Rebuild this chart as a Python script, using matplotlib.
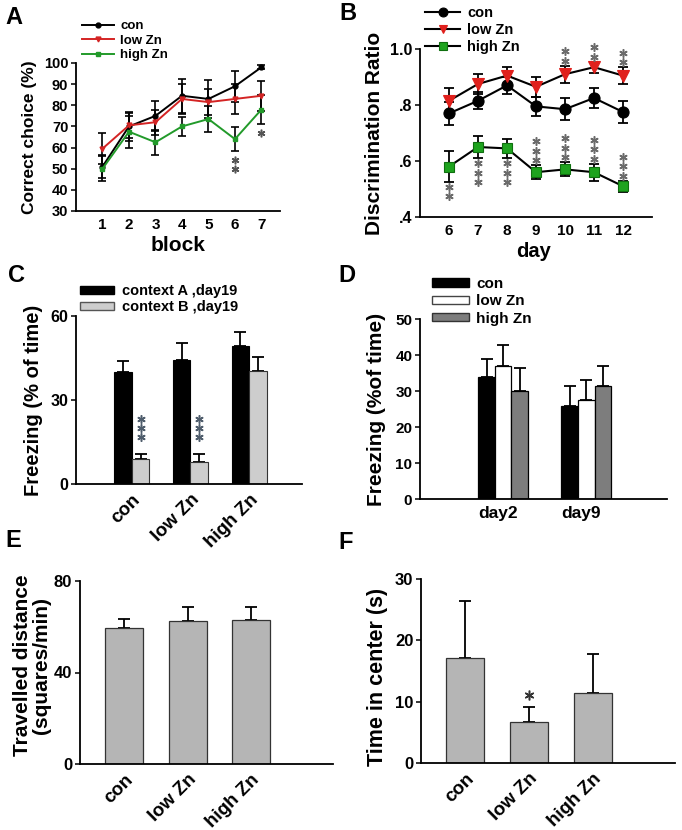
import matplotlib
matplotlib.use("Agg")
import matplotlib.pyplot as plt
import matplotlib.transforms as mtransforms
from matplotlib.patches import Patch
from matplotlib.ticker import FuncFormatter
import numpy as np

plt.rcParams['font.family'] = ['Liberation Sans', 'DejaVu Sans']
plt.rcParams['font.weight'] = 'bold'
plt.rcParams['axes.labelweight'] = 'bold'

# ---------------- data ----------------
groups = ["con", "low Zn", "high Zn"]

# A: correct choice per block
A_blocks = [1, 2, 3, 4, 5, 6, 7]
A_con = [51, 70, 75, 84.5, 83, 89, 98]
A_con_err = [5.5, 7, 7, 8, 9, 7.3, 1]
A_low = [59.5, 70.5, 72, 83, 81.5, 83, 84.5]
A_low_err = [7.5, 6, 6, 7, 6, 7, 7]
A_high = [50, 67.5, 62.5, 70, 73.5, 64, 78]
A_high_err = [6, 7.5, 6, 4.5, 6, 5.7, 6.8]
A_sig_high = {6: 2, 7: 1}          # block -> number of stars (below high Zn)

# B: discrimination ratio per day
B_days = [6, 7, 8, 9, 10, 11, 12]
B_con = [0.77, 0.815, 0.87, 0.795, 0.785, 0.825, 0.775]
B_con_err = [0.04, 0.03, 0.03, 0.035, 0.04, 0.035, 0.04]
B_low = [0.815, 0.875, 0.905, 0.865, 0.91, 0.935, 0.905]
B_low_err = [0.045, 0.035, 0.03, 0.035, 0.03, 0.02, 0.03]
B_high = [0.58, 0.65, 0.645, 0.56, 0.57, 0.56, 0.51]
B_high_err = [0.055, 0.04, 0.035, 0.025, 0.025, 0.03, 0.02]
B_sig_low = {10: 2, 11: 2, 12: 2}                       # above low Zn
B_sig_high = {6: (2, -1), 7: (3, -1), 8: (3, -1),       # (stars, direction)
              9: (3, 1), 10: (3, 1), 11: (3, 1), 12: (3, 1)}

# C: contextual fear, day 19
C_ctxA = [40, 44.3, 49.3]
C_ctxA_err = [4, 6, 5]
C_ctxB = [9, 7.8, 40.3]
C_ctxB_err = [1.8, 3, 5]
C_sig_B = [3, 3, 0]

# D: freezing day2 / day9
D_days = ["day2", "day9"]
D_con = [33.9, 25.9]
D_con_err = [5, 5.5]
D_low = [36.9, 27.6]
D_low_err = [6, 5.4]
D_high = [30.1, 31.4]
D_high_err = [6.2, 5.5]

# E: travelled distance
E_vals = [59.5, 62.5, 63]
E_err = [3.8, 6.1, 5.6]

# F: time in center
F_vals = [17.2, 6.7, 11.4]
F_err = [9.2, 2.4, 6.4]
F_sig = [0, 1, 0]

# ---------------- figure ----------------
W, H = 682, 830
fig = plt.figure(figsize=(W / 100, H / 100), dpi=100)


def add_axes(l, r, t, b):
    return fig.add_axes([l / W, 1 - b / H, (r - l) / W, (b - t) / H])


def style(ax, ytick_fs, xtick_fs):
    for s in ['top', 'right']:
        ax.spines[s].set_visible(False)
    for s in ['left', 'bottom']:
        ax.spines[s].set_linewidth(1.3)
    ax.tick_params(axis='y', direction='out', length=3.5, width=1.1,
                   labelsize=ytick_fs, pad=2)
    ax.tick_params(axis='x', length=0, labelsize=xtick_fs, pad=5)
    for lab in ax.get_xticklabels() + ax.get_yticklabels():
        lab.set_fontweight('bold')


def ylabel(ax, text, fs, xc, yc=0.5, ls=1.0):
    ax.set_ylabel(text, fontsize=fs, fontweight='bold', va='center',
                  linespacing=ls)
    ax.yaxis.set_label_coords(xc, yc)


def stars(ax, x, y, n, direction, first_px, step_px, color, ms=6):
    for k in range(n):
        dy = direction * (first_px + k * step_px)
        tr = mtransforms.offset_copy(ax.transData, fig=fig, x=0, y=dy,
                                     units='dots')
        ax.plot([x], [y], marker=(6, 2, 0), ms=ms, mew=1.1, color=color,
                transform=tr, clip_on=False, zorder=5)


panel_fs = 17
fig.text(5 / W, 1 - 6 / H, 'A', fontsize=panel_fs, fontweight='bold', va='top')
fig.text(339 / W, 1 - 2 / H, 'B', fontsize=panel_fs, fontweight='bold', va='top')
fig.text(8 / W, 1 - 264 / H, 'C', fontsize=panel_fs, fontweight='bold', va='top')
fig.text(338 / W, 1 - 264 / H, 'D', fontsize=panel_fs, fontweight='bold', va='top')
fig.text(5 / W, 1 - 529 / H, 'E', fontsize=panel_fs, fontweight='bold', va='top')
fig.text(338 / W, 1 - 531 / H, 'F', fontsize=panel_fs, fontweight='bold', va='top')

# ---------------- A ----------------
axA = add_axes(76, 280, 63, 211)
a_red, a_green = '#d42424', '#229a2a'
for vals, errs in [(A_con, A_con_err), (A_low, A_low_err), (A_high, A_high_err)]:
    axA.errorbar(A_blocks, vals, yerr=errs, fmt='none', ecolor='black',
                 elinewidth=1.2, capsize=3, capthick=1.2, zorder=2)
hA = []
for vals, col, mk, lab in [(A_con, 'black', 'o', 'con'),
                           (A_low, a_red, 'v', 'low Zn'),
                           (A_high, a_green, 's', 'high Zn')]:
    ln, = axA.plot(A_blocks, vals, color=col, lw=1.4, marker=mk, ms=3.5,
                   mfc=col, mec=col, label=lab, zorder=3)
    hA.append(ln)
for blk, n in A_sig_high.items():
    i = A_blocks.index(blk)
    stars(axA, blk, A_high[i] - A_high_err[i], n, -1, 9, 9, '#555555', ms=5.5)
axA.set_xlim(0, 7.7)
axA.set_ylim(30, 100)
axA.set_xticks(A_blocks)
axA.set_yticks(range(30, 101, 10))
style(axA, 10.5, 11)
ylabel(axA, 'Correct choice (%)', 12.5, -0.23)
axA.set_xlabel('block', fontsize=15, fontweight='bold')
axA.xaxis.set_label_coords(0.5, -0.236)
axA.xaxis.label.set_va('center')
fig.legend(handles=hA, loc='upper left', bbox_to_anchor=(82 / W, 1 - 20 / H),
           frameon=False, handlelength=2.4, handletextpad=0.5,
           labelspacing=0.18, borderpad=0, borderaxespad=0,
           prop={'weight': 'bold', 'size': 9.5})

# ---------------- B ----------------
axB = add_axes(420, 652, 49, 217)
b_red, b_green = '#e0201c', '#1ea31e'
for vals, errs in [(B_con, B_con_err), (B_low, B_low_err), (B_high, B_high_err)]:
    axB.errorbar(B_days, vals, yerr=errs, fmt='none', ecolor='black',
                 elinewidth=1.3, capsize=3.5, capthick=1.3, zorder=2)
hB = []
for vals, col, mk, ms, lab in [(B_con, 'black', 'o', 8, 'con'),
                               (B_low, b_red, 'v', 8, 'low Zn'),
                               (B_high, b_green, 's', 7.5, 'high Zn')]:
    ln, = axB.plot(B_days, vals, color='black', lw=1.5, marker=mk, ms=ms,
                   mfc=col, mec=col if col != b_green else '#0f6f0f',
                   mew=0.8, label=lab, zorder=3)
    hB.append(ln)
for d, n in B_sig_low.items():
    i = B_days.index(d)
    stars(axB, d, B_low[i] + B_low_err[i], n, 1, 5, 9.5, '#6b6b6b', ms=6)
for d, (n, direc) in B_sig_high.items():
    i = B_days.index(d)
    stars(axB, d, B_high[i] + direc * B_high_err[i], n, direc, 5, 9.5,
          '#6b6b6b', ms=6)
axB.set_xlim(5, 13)
axB.set_ylim(0.4, 1.0)
axB.set_xticks(B_days)
axB.set_yticks([0.4, 0.6, 0.8, 1.0])
axB.yaxis.set_major_formatter(FuncFormatter(
    lambda v, p: '1.0' if abs(v - 1) < 1e-9 else ('%.1f' % v).lstrip('0')))
style(axB, 11.5, 11)
ylabel(axB, 'Discrimination Ratio', 15, -0.194)
axB.set_xlabel('day', fontsize=14.5, fontweight='bold')
axB.xaxis.set_label_coords(0.49, -0.208)
axB.xaxis.label.set_va('center')
fig.legend(handles=hB, loc='upper left', bbox_to_anchor=(425 / W, 1 - 6 / H),
           frameon=False, handlelength=2.4, handletextpad=0.5,
           labelspacing=0.22, borderpad=0, borderaxespad=0, markerscale=0.8,
           prop={'weight': 'bold', 'size': 10.5})

# ---------------- C ----------------
axC = add_axes(76, 302, 316, 484)
xC = np.arange(len(groups))
wC = 0.3
axC.bar(xC - wC / 2, C_ctxA, wC, color='black', edgecolor='black', lw=0.8,
        label='context A ,day19', zorder=2)
axC.bar(xC + wC / 2, C_ctxB, wC, color='#cdcdcd', edgecolor='#333333', lw=0.8,
        label='context B ,day19', zorder=2)
axC.errorbar(xC - wC / 2, C_ctxA, yerr=[np.zeros(3), C_ctxA_err], fmt='none',
             ecolor='black', elinewidth=1.3, capsize=4, capthick=1.3, zorder=1)
axC.errorbar(xC + wC / 2, C_ctxB, yerr=[np.zeros(3), C_ctxB_err], fmt='none',
             ecolor='black', elinewidth=1.3, capsize=4, capthick=1.3, zorder=1)
for i, n in enumerate(C_sig_B):
    if n:
        stars(axC, xC[i] + wC / 2, C_ctxB[i] + C_ctxB_err[i], n, 1, 17, 9,
              '#4f5d6c', ms=6)
axC.set_xlim(-0.95, 2.9)
axC.set_ylim(0, 60)
axC.set_yticks([0, 30, 60])
axC.set_xticks(xC)
axC.set_xticklabels(groups, rotation=45, ha='right', rotation_mode='anchor')
style(axC, 11.5, 13.5)
ylabel(axC, 'Freezing (% of time)', 14.5, -0.186)
hC = [Patch(facecolor='black', edgecolor='black', label='context A ,day19'),
      Patch(facecolor='#cdcdcd', edgecolor='#555555', label='context B ,day19')]
fig.legend(handles=hC, loc='upper left', bbox_to_anchor=(80 / W, 1 - 284 / H),
           frameon=False, handlelength=2.3, handleheight=0.5,
           handletextpad=0.55, labelspacing=0.15, borderpad=0,
           borderaxespad=0, prop={'weight': 'bold', 'size': 10.5})

# ---------------- D ----------------
axD = add_axes(420, 667, 319, 499)
xD = np.arange(len(D_days))
wD = 0.2
for off, vals, errs, col, lab in [(-wD, D_con, D_con_err, 'black', 'con'),
                                  (0, D_low, D_low_err, 'white', 'low Zn'),
                                  (wD, D_high, D_high_err, '#7d7d7d', 'high Zn')]:
    axD.bar(xD + off, vals, wD, color=col, edgecolor='black', lw=0.9,
            label=lab, zorder=2)
    axD.errorbar(xD + off, vals, yerr=[np.zeros(len(vals)), errs], fmt='none',
                 ecolor='black', elinewidth=1.3, capsize=4, capthick=1.3,
                 zorder=1)
axD.set_xlim(-1.0, 1.97)
axD.set_ylim(0, 50)
axD.set_yticks(range(0, 51, 10))
axD.set_xticks(xD - 0.06)
axD.set_xticklabels(D_days)
style(axD, 11, 12.5)
ylabel(axD, 'Freezing (%of time)', 15, -0.178)
hD = [Patch(facecolor='black', edgecolor='black', label='con'),
      Patch(facecolor='white', edgecolor='#444444', label='low Zn'),
      Patch(facecolor='#7d7d7d', edgecolor='#333333', label='high Zn')]
fig.legend(handles=hD, loc='upper left', bbox_to_anchor=(432 / W, 1 - 277 / H),
           frameon=False, handlelength=2.4, handleheight=0.45,
           handletextpad=0.5, labelspacing=0.22, borderpad=0,
           borderaxespad=0, prop={'weight': 'bold', 'size': 11})

# ---------------- E ----------------
axE = add_axes(80, 333, 581, 764)
xE = np.arange(len(groups))
axE.bar(xE, E_vals, 0.6, color='#b5b5b5', edgecolor='#333333', lw=0.9, zorder=2)
axE.errorbar(xE, E_vals, yerr=[np.zeros(3), E_err], fmt='none', ecolor='black',
             elinewidth=1.3, capsize=4, capthick=1.3, zorder=1)
axE.set_xlim(-0.7, 3.3)
axE.set_ylim(0, 80)
axE.set_yticks([0, 40, 80])
axE.set_xticks(xE)
axE.set_xticklabels(groups, rotation=45, ha='right', rotation_mode='anchor')
style(axE, 12, 13.5)
ylabel(axE, 'Travelled distance\n(squares/min)', 15, -0.19, 0.54, ls=0.95)

# ---------------- F ----------------
axF = add_axes(421, 675, 579, 763)
xF = np.arange(len(groups))
axF.bar(xF, F_vals, 0.6, color='#b5b5b5', edgecolor='#333333', lw=0.9, zorder=2)
axF.errorbar(xF, F_vals, yerr=[np.zeros(3), F_err], fmt='none', ecolor='black',
             elinewidth=1.3, capsize=4, capthick=1.3, zorder=1)
for i, n in enumerate(F_sig):
    if n:
        stars(axF, xF[i], F_vals[i] + F_err[i], n, 1, 12, 9, '#333333', ms=7)
axF.set_xlim(-0.69, 3.28)
axF.set_ylim(0, 30)
axF.set_yticks([0, 10, 20, 30])
axF.set_xticks(xF)
axF.set_xticklabels(groups, rotation=45, ha='right', rotation_mode='anchor')
style(axF, 12, 13.5)
ylabel(axF, 'Time in center (s)', 15.5, -0.17, 0.47)

fig.savefig('out.png', dpi=100)
